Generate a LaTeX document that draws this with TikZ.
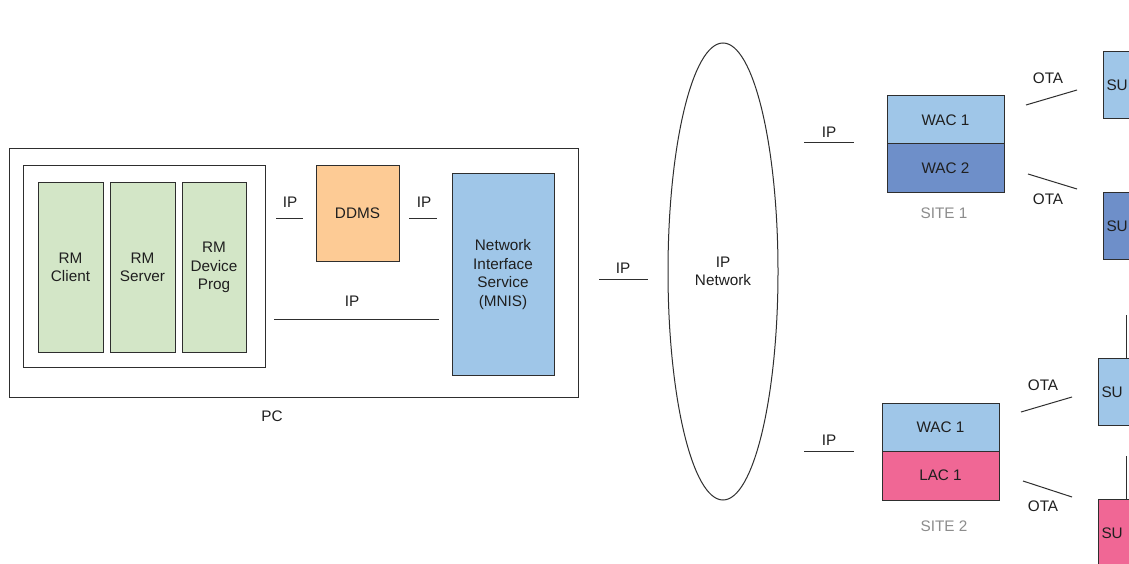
\documentclass[tikz,border=0pt]{standalone}
\usepackage{fontspec}
\setmainfont{Liberation Sans}
\usetikzlibrary{shapes.geometric}
\definecolor{lgreen}{HTML}{D3E6C7}
\definecolor{lorange}{HTML}{FDCB95}
\definecolor{lblue}{HTML}{9FC6E8}
\definecolor{dblue}{HTML}{6E8FC9}
\definecolor{pinkc}{HTML}{F06795}
\definecolor{edge}{HTML}{2E2E2E}
\definecolor{sitegrey}{HTML}{8C8C8C}
\begin{document}
\begin{tikzpicture}[x=1pt,y=-1pt,
  every node/.style={font=\fontsize{15.3}{18.5}\selectfont, text=black!88},
  box/.style={draw=edge, line width=1pt, rectangle, inner sep=0pt, align=center},
  wire/.style={draw=edge, line width=1pt},
  lbl/.style={inner sep=0pt},
  sitelbl/.style={inner sep=0pt, text=sitegrey},
  subox/.style={box, text width=54pt, inner xsep=3pt, align=left, minimum height=67pt}]
\useasboundingbox (0,0) rectangle (1129,564);
\clip (0,0) rectangle (1129,564);
\fill[white] (0,0) rectangle (1129,564);

% PC
\node[box, minimum width=569pt, minimum height=248pt] (pc) at (293.5,273) {};
\node[lbl] (pclbl) at (272,416) {PC};
\node[box, minimum width=242pt, minimum height=201pt] (inner) at (144,266.5) {};
\node[box, fill=lgreen, minimum width=65pt, minimum height=169pt] (client) at (70.5,267.5) {RM\\Client};
\node[box, fill=lgreen, minimum width=65pt, minimum height=169pt] (server) at (142.5,267.5) {RM\\Server};
\node[box, fill=lgreen, minimum width=64pt, minimum height=169pt] (devprog) at (214,267.5) {RM\\Device\\Prog};
\node[box, fill=lorange, minimum width=83pt, minimum height=95pt] (ddms) at (357.5,213.5) {DDMS};
\node[box, fill=lblue, minimum width=102pt, minimum height=201pt] (mnis) at (503,274.5) {Network\\Interface\\Service\\(MNIS)};

\coordinate (a1) at (276,218); \coordinate (a2) at (303,218);
\draw[wire] (a1) -- (a2);
\node[lbl] (ipa) at (290,202) {IP};
\coordinate (b1) at (409,218); \coordinate (b2) at (437,218);
\draw[wire] (b1) -- (b2);
\node[lbl] (ipb) at (424,202) {IP};
\coordinate (c1) at (274,319); \coordinate (c2) at (439,319);
\draw[wire] (c1) -- (c2);
\node[lbl] (ipc) at (352,301) {IP};
\coordinate (d1) at (599,279); \coordinate (d2) at (648,279);
\draw[wire] (d1) -- (d2);
\node[lbl] (ipd) at (623,268) {IP};

% IP network
\node[draw=edge, line width=1pt, ellipse, minimum width=110pt, minimum height=457pt, inner sep=0pt, align=center] (net) at (723,271.5) {IP\\Network};

% Site 1
\coordinate (e1) at (804,143); \coordinate (e2) at (854,143);
\draw[wire] (e1) -- (e2);
\node[lbl] (ipe) at (829,132) {IP};
\node[box, fill=lblue, minimum width=117pt, minimum height=48pt] (wac11) at (945.5,120) {WAC 1};
\node[box, fill=dblue, minimum width=117pt, minimum height=49pt] (wac12) at (945.5,168.5) {WAC 2};
\node[sitelbl] (site1) at (944,213) {SITE 1};
\coordinate (f1) at (1026,105); \coordinate (f2) at (1077,90);
\draw[wire] (f1) -- (f2);
\node[lbl] (otaf) at (1048,78) {OTA};
\coordinate (g1) at (1028,174); \coordinate (g2) at (1077,189);
\draw[wire] (g1) -- (g2);
\node[lbl] (otag) at (1048,199) {OTA};
\node[subox, fill=lblue, anchor=north west] (su1) at (1103,51) {SU};
\node[subox, fill=dblue, anchor=north west] (su2) at (1103,192) {SU};

% Site 2
\coordinate (h1) at (804,451); \coordinate (h2) at (854,451);
\draw[wire] (h1) -- (h2);
\node[lbl] (iph) at (829,440) {IP};
\node[box, fill=lblue, minimum width=117pt, minimum height=48pt] (wac21) at (940.5,427) {WAC 1};
\node[box, fill=pinkc, minimum width=117pt, minimum height=49pt] (lac21) at (940.5,475.5) {LAC 1};
\node[sitelbl] (site2) at (944,526) {SITE 2};
\coordinate (i1) at (1021,412); \coordinate (i2) at (1072,397);
\draw[wire] (i1) -- (i2);
\node[lbl] (otai) at (1043,385) {OTA};
\coordinate (j1) at (1023,481); \coordinate (j2) at (1072,497);
\draw[wire] (j1) -- (j2);
\node[lbl] (otaj) at (1043,506) {OTA};
\node[subox, fill=lblue, anchor=north west] (su3) at (1098,358) {SU};
\node[subox, fill=pinkc, anchor=north west] (su4) at (1098,499) {SU};
\coordinate (k1) at (1126,315);
\draw[wire] (k1) -- (su3.north -| k1);
\coordinate (l1) at (1126,456);
\draw[wire] (l1) -- (su4.north -| l1);
\end{tikzpicture}
\end{document}
